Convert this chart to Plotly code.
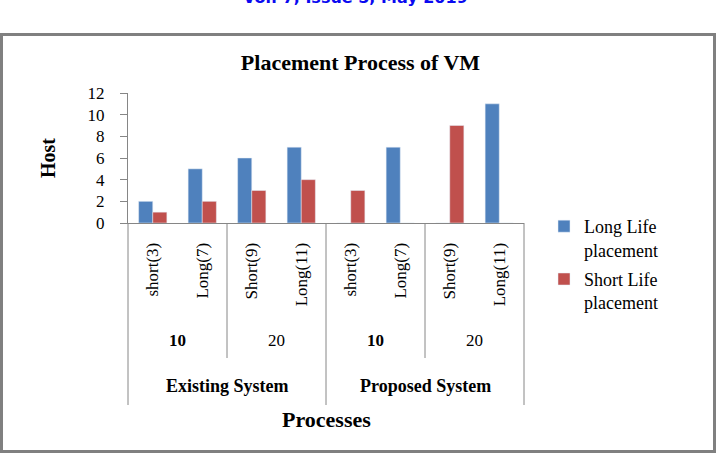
import plotly.graph_objects as go

# ---- data ----
categories = ["short(3)", "Long(7)", "Short(9)", "Long(11)",
              "short(3)", "Long(7)", "Short(9)", "Long(11)"]
level2_labels = ["10", "20", "10", "20"]
level3_labels = ["Existing System", "Proposed System"]
long_life = [2, 5, 6, 7, 0, 7, 0, 11]
short_life = [1, 2, 3, 4, 3, 0, 9, 0]
y_ticks = [0, 2, 4, 6, 8, 10, 12]
grid_vals = [2, 4, 6, 8, 12]

W, H = 721, 458
L, R, T, B = 128, 524, 93, 223
SERIF = "Liberation Serif, Times New Roman, serif"
GRAY = "#868686"

def px_x(p):
    return (p - L) / (R - L)

def px_y(p):
    return (B - p) / (B - T)

xs = list(range(len(categories)))
xr = [-0.5, len(categories) - 0.5]

def cat_paper(v):
    return (v - xr[0]) / (xr[1] - xr[0])

fig = go.Figure()
fig.add_trace(go.Bar(x=xs, y=long_life, name="Long Life<br>placement",
                     marker_color="#4F81BD", legendgroup="a"))
fig.add_trace(go.Bar(x=xs, y=short_life, name="Short Life<br>placement",
                     marker_color="#C0504D", legendgroup="b"))

shapes = []
# dividers
n = len(categories)
for b in range(0, n + 1):
    if b % 4 == 0:
        y_end = 405
    elif b % 2 == 0:
        y_end = 358
    else:
        continue
    xp = cat_paper(b - 0.5)
    shapes.append(dict(type="line", xref="paper", yref="paper",
                       x0=xp, x1=xp, y0=0, y1=px_y(y_end),
                       line=dict(color=GRAY, width=1)))
# outer border
shapes.append(dict(type="rect", xref="paper", yref="paper",
                   x0=px_x(1.5), x1=px_x(714.5), y0=px_y(34.5), y1=px_y(451.5),
                   line=dict(color="#808080", width=3), layer="below"))

annotations = []
for i, lab in enumerate(level2_labels):
    annotations.append(dict(x=2 * i + 0.5, xref="x", y=px_y(340), yref="paper",
                            text=("<b>%s</b>" % lab) if lab == "10" else lab,
                            showarrow=False, xanchor="center", yanchor="middle",
                            font=dict(family=SERIF, size=17, color="black")))
for i, lab in enumerate(level3_labels):
    annotations.append(dict(x=4 * i + 1.5, xref="x", y=px_y(386), yref="paper",
                            text="<b>%s</b>" % lab, showarrow=False,
                            xanchor="center", yanchor="middle",
                            font=dict(family=SERIF, size=18, color="black")))
annotations.append(dict(x=0.5, xref="paper", y=px_y(419), yref="paper",
                        text="<b>Processes</b>", showarrow=False,
                        xanchor="center", yanchor="middle",
                        font=dict(family=SERIF, size=22, color="black")))
annotations.append(dict(x=px_x(48), xref="paper", y=px_y(158), yref="paper",
                        text="<b>Host</b>", showarrow=False, textangle=-90,
                        xanchor="center", yanchor="middle",
                        font=dict(family=SERIF, size=20, color="black")))
annotations.append(dict(x=px_x(355), xref="paper", y=px_y(-3), yref="paper",
                        text="<b>Vol. 7, Issue 5, May 2019</b>", showarrow=False,
                        xanchor="center", yanchor="middle",
                        font=dict(family="DejaVu Sans, Verdana, sans-serif",
                                  size=16, color="#0a0af0")))

fig.update_layout(
    width=W, height=H,
    margin=dict(l=L, r=W - R, t=T, b=H - B),
    paper_bgcolor="white", plot_bgcolor="white",
    barmode="group", bargap=0.43, bargroupgap=0,
    title=dict(text="<b>Placement Process of VM</b>", x=0.5, xref="container",
               xanchor="center", y=1 - 62 / H, yref="container", yanchor="middle",
               font=dict(family=SERIF, size=22, color="black")),
    xaxis=dict(range=xr, tickmode="array", tickvals=xs, ticktext=categories,
               tickangle=-90, showgrid=False, zeroline=False,
               showline=True, linecolor=GRAY, linewidth=1, ticks="",
               ticklabelstandoff=12,
               tickfont=dict(family=SERIF, size=17, color="black")),
    yaxis=dict(range=[0, 12], tickmode="array", tickvals=y_ticks,
               showgrid=False, zeroline=False, showline=True, linecolor=GRAY,
               linewidth=1, ticks="outside", ticklen=7, tickcolor=GRAY,
               ticklabelstandoff=12,
               tickfont=dict(family=SERIF, size=17, color="black")),
    yaxis2=dict(range=[0, 12], overlaying="y", anchor="x", side="left",
                tickmode="array", tickvals=grid_vals, showgrid=True,
                gridcolor=GRAY, gridwidth=1, showticklabels=False,
                ticks="", showline=False, zeroline=False),
    legend=dict(x=px_x(544), y=px_y(208), xanchor="left", yanchor="top",
                valign="top", tracegroupgap=3, bgcolor="rgba(0,0,0,0)",
                font=dict(family=SERIF, size=18, color="black")),
    shapes=shapes, annotations=annotations,
)

fig.write_html("out.html")
